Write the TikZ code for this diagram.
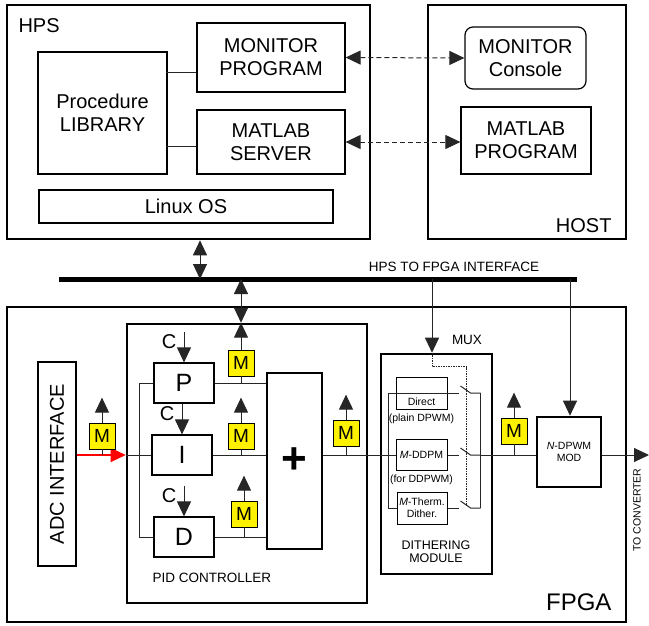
\documentclass[tikz,border=0pt]{standalone}
\usepackage{fontspec}
\setmainfont{Liberation Sans}
\usetikzlibrary{arrows.meta,positioning,calc}

\begin{document}
\begin{tikzpicture}[x=1pt, y=-1pt, font=\fontsize{20}{23}\selectfont,
  box/.style={draw, line width=1.2pt, inner sep=0pt, align=center},
  heavy/.style={draw, line width=2.6pt, inner sep=0pt, align=center},
  mbox/.style={draw, line width=0.8pt, fill=yellow, minimum size=26pt, inner sep=0pt, font=\fontsize{19}{19}\selectfont},
  wire/.style={line width=1pt, black!85},
  arr/.style={wire, -{Triangle[length=15pt,width=14pt]}},
  twoway/.style={wire, {Triangle[length=15pt,width=14pt]}-{Triangle[length=15pt,width=14pt]}},
  lbl/.style={font=\fontsize{13.5}{15}\selectfont, align=center},
  sml/.style={font=\fontsize{10.5}{12}\selectfont, align=center}]
\useasboundingbox (0,0) rectangle (649,625);

% HPS and HOST
\node[heavy, minimum width=363pt, minimum height=234pt] (hps) at (188.5,122) {};
\node[anchor=base west] (hpslbl) at (15,32) {HPS};
\node[box, minimum width=129pt, minimum height=122pt] (lib) at (102.5,113) {Procedure\\LIBRARY};
\node[box, minimum width=148pt, minimum height=69pt] (mon) at (271,57.5) {MONITOR\\PROGRAM};
\node[box, minimum width=148pt, minimum height=64pt] (srv) at (271,142) {MATLAB\\SERVER};
\node[box, minimum width=294pt, minimum height=33pt] (os) at (186,206.5) {Linux OS};
\draw[wire] ([yshift=-14.5pt]mon.west) -- +(-30,0);
\draw[wire] ([yshift=-4pt]srv.west) -- +(-30,0);

\node[heavy, minimum width=198pt, minimum height=234pt] (host) at (527,122) {};
\node[anchor=base east] (hostlbl) at (615,232) {HOST};
\node[box, rounded corners=8pt, minimum width=121pt, minimum height=62pt] (con) at (525.5,58) {MONITOR\\Console};
\node[box, minimum width=130pt, minimum height=67pt] (prg) at (526,140.5) {MATLAB\\PROGRAM};
\draw[twoway, dash pattern=on 5pt off 3pt] (mon.east) -- (con.west);
\draw[twoway, dash pattern=on 5pt off 3pt] (srv.east) -- (srv.east -| prg.west);

% bus
\coordinate (busL) at (59,279);
\coordinate (busR) at (577,279);
\coordinate (b1) at (200,279);
\coordinate (b2) at (241,279);
\coordinate (b3) at (432,279);
\coordinate (b4) at (570,279);
\draw[line width=5pt] (busL) -- (busR);
\node[lbl, anchor=base] (buslbl) at (454,271) {HPS TO FPGA INTERFACE};
\draw[twoway] (b1 |- hps.south) -- (b1);

% FPGA
\node[heavy, minimum width=619pt, minimum height=315pt] (fpga) at (316.5,464.5) {};
\node[anchor=base east, font=\fontsize{24}{24}\selectfont] (fpgalbl) at (615,610) {FPGA};
\node[box, line width=2.2pt, minimum width=38pt, minimum height=204pt] (adc) at (57,464) {};
\node[rotate=90] (adctxt) at (adc.center) {ADC INTERFACE};

% PID controller
\node[heavy, minimum width=240pt, minimum height=279pt] (pid) at (247,463.5) {};
\node[lbl, anchor=base] (pidlbl) at (212,582) {PID CONTROLLER};
\node[box, minimum width=60pt, minimum height=40pt, font=\fontsize{25}{25}\selectfont] (P) at (184,383) {P};
\node[box, minimum width=60pt, minimum height=40pt, font=\fontsize{25}{25}\selectfont] (I) at (182,455) {I};
\node[box, minimum width=60pt, minimum height=40pt, font=\fontsize{25}{25}\selectfont] (D) at (184,537) {D};
\node[box, minimum width=55pt, minimum height=176pt, font=\fontsize{44}{44}\selectfont\bfseries] (sum) at (294.5,461) {+};
\foreach \b in {P,I,D}{
  \draw[arr] ([yshift=30pt]\b.north) -- (\b.north);
  \node (c\b) at ([xshift=-15pt,yshift=21pt]\b.north) {C};
  \draw[wire] (\b.east) -- (\b.east -| sum.west);
}
\draw[wire] (P.west) -- ++(-14,0) |- (D.west);
\draw[arr, line width=1.2pt, red] (adc.east |- I.west) -- (pid.west |- I.west);
\draw[wire] (pid.west |- I.west) -- (I.west);
\draw[twoway] (b2) -- (b2 |- pid.north);

% dithering module
\node[heavy, minimum width=111pt, minimum height=220pt] (dith) at (436.5,464) {};
\node[lbl, anchor=base] (muxlbl) at (467,344) {MUX};
\node[font=\fontsize{12.5}{13.5}\selectfont, align=center] (dithlbl) at (436,551.5) {DITHERING\\MODULE};
\node[box, line width=1pt, minimum width=51pt, minimum height=32pt] (dir) at (421.5,393) {};
\node[sml] (dirtxt) at (421.5,402) {Direct};
\node[sml, below=1pt of dir] (dirnote) {(plain DPWM)};
\node[box, sml, line width=1pt, minimum width=51pt, minimum height=31pt] (ddp) at (421.5,455) {\textit{M}-DDPM};
\node[sml, below=0pt of ddp] (ddpnote) {(for DDPWM)};
\node[box, sml, line width=1pt, minimum width=50pt, minimum height=32pt] (thm) at (422,508) {\textit{M}-Therm.\\Dither.};
\draw[wire] (sum.east |- I.east) -- (ddp.west);
\draw[wire] ([xshift=-7pt]dir.west) -- ([xshift=11pt]dir.east);
\draw[wire] ([xshift=-7pt]dir.west) |- (thm.west);
\foreach \b in {dir,ddp,thm}{
  \draw[wire] (\b.east) -- ++(11,0);
  \draw[wire] ([xshift=13pt,yshift=7pt]\b.east) -- ++(10,7) -- ++(10,0);
}
\draw[wire] ([xshift=33pt]dir.east) -- ([xshift=33pt]thm.east);
\draw[wire, dash pattern=on 1.5pt off 1pt] (b3 |- dith.north) -- ++(0,14) -| ([xshift=19pt,yshift=3pt]thm.east);
\draw[arr] (b3) -- (b3 |- dith.north);

% modulator and output
\node[heavy, sml, minimum width=64pt, minimum height=70pt] (nd) at (569,452) {\textit{N}-DPWM\\MOD};
\draw[arr] (b4) -- (b4 |- nd.north);
\draw[wire] ([xshift=33pt]ddp.east) -- (ddp.east -| nd.west);
\coordinate (out) at (649,455);
\draw[arr] (nd.east |- ddp.east) -- (out);
\node[sml, rotate=90] (conv) at (637,510) {TO CONVERTER};

% monitor probes
\foreach \n/\x/\y in {adc/102/436, p/241/363, i/241/436, d/244/514, s/346/433, o/514/431}
  \node[mbox] (m\n) at (\x,\y) {M};
\foreach \n/\t in {adc/I, p/P, i/I, d/D, s/I, o/ddp}
  \draw[wire] (m\n.south) -- (m\n.south |- \t.east);
\foreach \n in {adc,i,d,s,o}
  \draw[arr] (m\n.north) -- ++(0,-25);
\draw[arr] (mp.north) -- (mp.north |- pid.north);
\end{tikzpicture}
\end{document}
